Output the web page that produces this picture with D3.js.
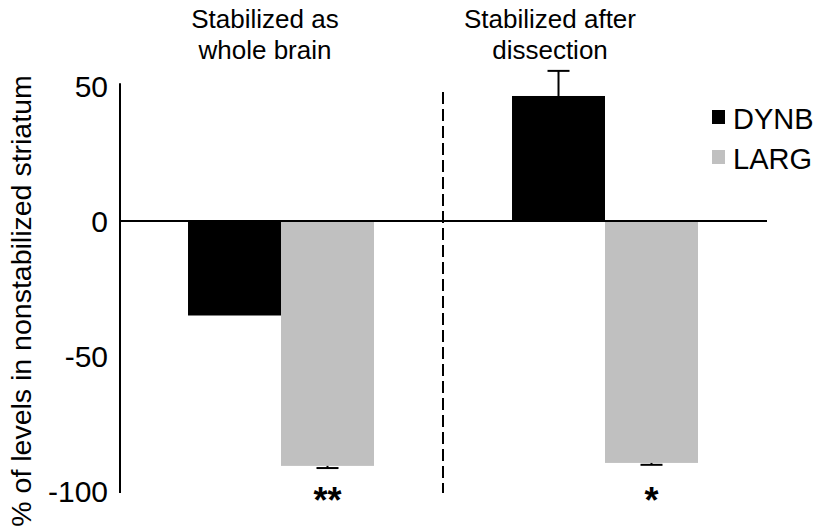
<!DOCTYPE html>
<html>
<head>
<meta charset="utf-8">
<script src="https://cdn.jsdelivr.net/npm/d3@7"></script>
<style>
  body { margin: 0; background: #fff; }
  svg { display: block; font-family: "Liberation Sans", Arial, sans-serif; }
</style>
</head>
<body>
<svg id="chart" width="826" height="528"></svg>
<script>
// data
const groups = ["whole", "dissection"];
const groupTitles = [["Stabilized as", "whole brain"], ["Stabilized after", "dissection"]];
const series = ["DYNB", "LARG"];
const dynbValues = [-35, 46.3];
const dynbErrors = [0, 9.3];
const largValues = [-90.7, -89.6];
const largErrors = [0.8, 0.7];
const stars = ["**", "*"];
const yTicks = [50, 0, -50, -100];

const colors = {DYNB: "#000000", LARG: "#c0c0c0"};

const svg = d3.select("#chart");

const y = d3.scaleLinear().domain([-100, 50]).range([491, 86]);
const x0 = d3.scaleBand().domain(groups).range([119, 767]).padding(0);
const x1 = d3.scaleBand().domain(series)
    .range([x0.bandwidth() * 0.213, x0.bandwidth() * 0.787]).padding(0);

const rows = groups.map((g, i) => ({
    group: g,
    bars: [
        {key: "DYNB", value: dynbValues[i], err: dynbErrors[i]},
        {key: "LARG", value: largValues[i], err: largErrors[i]}
    ]
}));

// bars
const gGroups = svg.selectAll(".grp")
    .data(rows)
    .enter()
    .append("g")
    .attr("class", "grp")
    .attr("transform", d => `translate(${x0(d.group)},0)`);

gGroups.selectAll("rect")
    .data(d => d.bars)
    .enter()
    .append("rect")
    .attr("x", d => x1(d.key))
    .attr("width", x1.bandwidth())
    .attr("y", d => y(Math.max(0, d.value)))
    .attr("height", d => Math.abs(y(d.value) - y(0)))
    .attr("fill", d => colors[d.key]);

// error bars (away from zero)
const errs = gGroups.selectAll(".err")
    .data(d => d.bars.filter(b => b.err > 0))
    .enter()
    .append("g")
    .attr("class", "err");

errs.append("line")
    .attr("x1", d => x1(d.key) + x1.bandwidth() / 2)
    .attr("x2", d => x1(d.key) + x1.bandwidth() / 2)
    .attr("y1", d => y(d.value))
    .attr("y2", d => y(d.value + Math.sign(d.value) * d.err))
    .attr("stroke", "#000").attr("stroke-width", 2);

errs.append("line")
    .attr("x1", d => x1(d.key) + x1.bandwidth() / 2 - 11)
    .attr("x2", d => x1(d.key) + x1.bandwidth() / 2 + 11)
    .attr("y1", d => y(d.value + Math.sign(d.value) * d.err))
    .attr("y2", d => y(d.value + Math.sign(d.value) * d.err))
    .attr("stroke", "#000").attr("stroke-width", 2);

// significance stars under LARG bars
gGroups.append("text")
    .attr("x", x1("LARG") + x1.bandwidth() / 2)
    .attr("y", 513)
    .attr("text-anchor", "middle")
    .style("font-size", "36px")
    .style("font-weight", "bold")
    .text((d, i) => stars[i]);

// zero line
svg.append("line")
    .attr("x1", x0.range()[0]).attr("x2", x0.range()[1])
    .attr("y1", y(0)).attr("y2", y(0))
    .attr("stroke", "#000").attr("stroke-width", 2);

// y axis line, no tick marks
svg.append("line")
    .attr("x1", 120).attr("x2", 120)
    .attr("y1", y(51)).attr("y2", y(-100.7))
    .attr("stroke", "#000").attr("stroke-width", 2);

svg.selectAll(".ytick")
    .data(yTicks)
    .enter()
    .append("text")
    .attr("class", "ytick")
    .attr("x", 108)
    .attr("y", d => y(d) + 11)
    .attr("text-anchor", "end")
    .style("font-size", "30px")
    .text(d => d);

// y label
svg.append("text")
    .attr("transform", "translate(31,301) rotate(-90)")
    .attr("text-anchor", "middle")
    .style("font-size", "28.5px")
    .text("% of levels in nonstabilized striatum");

// dashed divider between groups
svg.append("line")
    .attr("x1", x0("dissection")).attr("x2", x0("dissection"))
    .attr("y1", 92).attr("y2", 493)
    .attr("stroke", "#000").attr("stroke-width", 2)
    .attr("stroke-dasharray", "12,5");

// group titles
const titleX = [265, 550];
groupTitles.forEach((lines, i) => {
    const t = svg.append("text")
        .attr("text-anchor", "middle")
        .style("font-size", "26px");
    lines.forEach((s, j) => {
        t.append("tspan").attr("x", titleX[i]).attr("y", 28 + j * 31).text(s);
    });
});

// legend
const legend = svg.selectAll(".leg")
    .data(series)
    .enter()
    .append("g")
    .attr("class", "leg")
    .attr("transform", (d, i) => `translate(712,${110 + i * 40})`);

legend.append("rect")
    .attr("width", 13).attr("height", 14)
    .attr("fill", d => colors[d]);

legend.append("text")
    .attr("x", 21).attr("y", 19)
    .style("font-size", "29px")
    .text(d => d);
</script>
</body>
</html>
